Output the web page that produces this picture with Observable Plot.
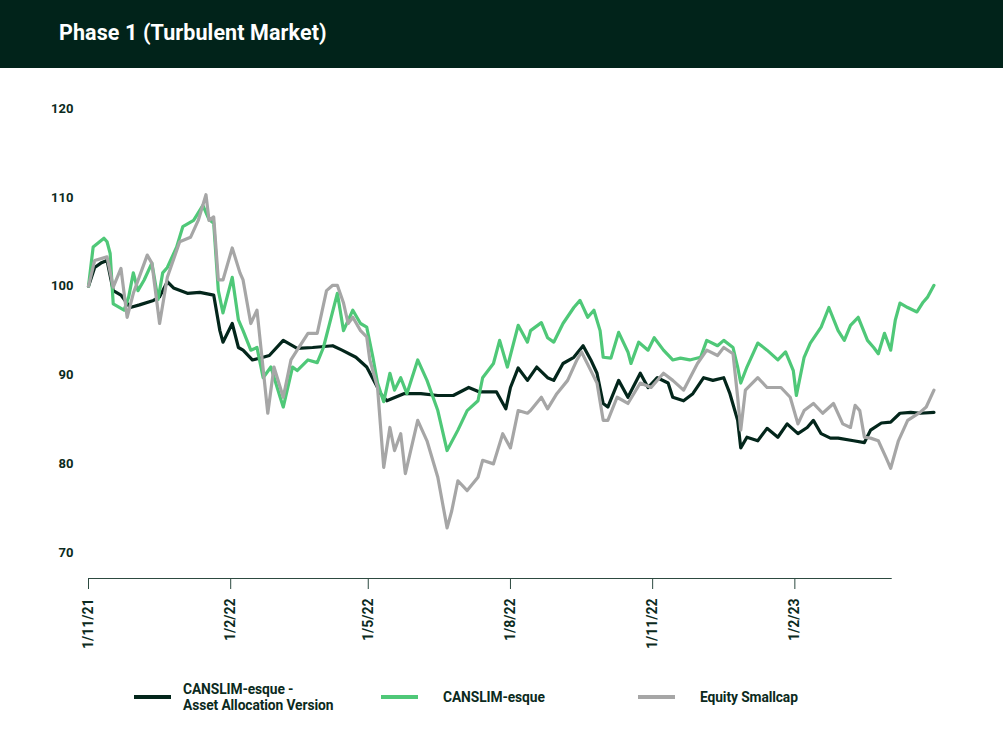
<!DOCTYPE html>
<html>
<head>
<meta charset="utf-8">
<script src="https://cdn.jsdelivr.net/npm/d3@7"></script>
<script src="https://cdn.jsdelivr.net/npm/@observablehq/plot@0.6"></script>
<style>
  html, body { margin: 0; padding: 0; background: #fff; }
  body { width: 1003px; height: 754px; position: relative; font-family: Roboto, "Open Sans", sans-serif; overflow: hidden; }
  #header { position: absolute; left: 0; top: 0; width: 1003px; height: 68px; background: #01231a; }
  #title { position: absolute; left: 59px; top: 20px; color: #fff; font-size: 21.5px; font-weight: 700; font-family: Roboto, sans-serif; letter-spacing: 0.1px; }
  #chart { position: absolute; left: 0; top: 68px; }
  .leg { position: absolute; font-family: Roboto, sans-serif; font-weight: 700; font-size: 13.8px; letter-spacing: -0.1px; color: #0b2a20; line-height: 16px; }
</style>
</head>
<body>
<div id="header"><div id="title">Phase 1 (Turbulent Market)</div></div>
<div id="chart"></div>
<div id="legend"></div>
<script>
const seriesNames = ["CANSLIM-esque -\nAsset Allocation Version", "CANSLIM-esque", "Equity Smallcap"];
const seriesColors = ["#03261b", "#4fc878", "#a6a6a6"];

const assetAllocation = [
  ["2021-11-01",100],["2021-11-05",102.1],["2021-11-09",102.6],["2021-11-13",102.9],["2021-11-17",99.5],
  ["2021-11-22",99.0],["2021-11-28",97.6],["2021-12-04",97.9],["2021-12-13",98.4],["2021-12-17",98.8],
  ["2021-12-22",100.5],["2021-12-26",99.8],["2022-01-04",99.2],["2022-01-12",99.3],["2022-01-21",99.0],
  ["2022-01-25",95.0],["2022-01-27",93.7],["2022-02-02",95.8],["2022-02-06",93.1],["2022-02-09",92.8],
  ["2022-02-15",91.7],["2022-02-22",92.0],["2022-02-26",92.2],["2022-03-07",93.9],["2022-03-16",93.0],
  ["2022-03-26",93.1],["2022-04-08",93.3],["2022-04-14",92.8],["2022-04-23",92.0],["2022-04-30",90.9],
  ["2022-05-07",88.6],["2022-05-09",87.9],["2022-05-13",87.1],["2022-05-24",87.9],["2022-06-04",87.9],
  ["2022-06-15",87.7],["2022-06-25",87.7],["2022-07-05",88.6],["2022-07-12",88.1],["2022-07-23",88.1],
  ["2022-07-29",86.2],["2022-08-01",88.6],["2022-08-06",90.8],["2022-08-12",89.4],["2022-08-18",90.9],
  ["2022-08-25",89.7],["2022-08-29",89.4],["2022-09-04",91.3],["2022-09-11",92.0],["2022-09-17",93.3],
  ["2022-09-22",91.7],["2022-09-26",90.2],["2022-09-30",86.8],["2022-10-03",86.4],["2022-10-10",89.4],
  ["2022-10-16",87.5],["2022-10-24",90.2],["2022-10-29",88.6],["2022-11-04",89.7],["2022-11-11",89.1],
  ["2022-11-14",87.5],["2022-11-21",87.1],["2022-11-27",87.9],["2022-12-04",89.7],["2022-12-10",89.4],
  ["2022-12-17",89.7],["2022-12-21",87.9],["2022-12-26",84.9],["2022-12-28",81.8],["2023-01-01",83.0],
  ["2023-01-08",82.6],["2023-01-14",84.0],["2023-01-21",83.0],["2023-01-27",84.5],["2023-02-03",83.4],
  ["2023-02-09",84.1],["2023-02-13",84.9],["2023-02-18",83.4],["2023-02-24",82.9],["2023-03-01",82.9],
  ["2023-03-11",82.6],["2023-03-18",82.4],["2023-03-22",83.8],["2023-03-29",84.6],["2023-04-04",84.7],
  ["2023-04-10",85.7],["2023-04-17",85.8],["2023-04-23",85.7],["2023-05-02",85.8]
];

const canslim = [
  ["2021-11-01",100],["2021-11-04",104.4],["2021-11-11",105.4],["2021-11-13",105.0],["2021-11-15",103.7],
  ["2021-11-17",98.0],["2021-11-24",97.3],["2021-11-27",98.8],["2021-11-30",101.5],["2021-12-03",99.5],
  ["2021-12-07",100.7],["2021-12-12",102.6],["2021-12-16",98.5],["2021-12-19",101.5],["2021-12-22",102.1],
  ["2021-12-28",104.4],["2022-01-01",106.7],["2022-01-08",107.4],["2022-01-14",109.1],["2022-01-18",107.5],
  ["2022-01-21",107.1],["2022-01-24",99.5],["2022-01-27",97.0],["2022-02-02",101.0],["2022-02-06",96.2],
  ["2022-02-09",95.0],["2022-02-14",92.8],["2022-02-18",93.1],["2022-02-22",89.7],["2022-02-27",90.9],
  ["2022-03-05",87.5],["2022-03-07",86.4],["2022-03-13",90.9],["2022-03-16",90.5],["2022-03-23",91.7],
  ["2022-03-29",91.4],["2022-04-02",93.1],["2022-04-07",96.5],["2022-04-11",99.2],["2022-04-15",95.0],
  ["2022-04-21",97.3],["2022-04-26",95.8],["2022-04-30",95.4],["2022-05-04",92.0],["2022-05-07",89.1],
  ["2022-05-11",87.0],["2022-05-15",90.2],["2022-05-18",88.3],["2022-05-22",89.7],["2022-05-26",87.9],
  ["2022-06-02",91.7],["2022-06-08",89.4],["2022-06-15",86.0],["2022-06-21",81.5],["2022-06-28",83.8],
  ["2022-07-04",86.0],["2022-07-11",87.1],["2022-07-14",89.7],["2022-07-21",91.3],["2022-07-25",93.9],
  ["2022-07-30",90.9],["2022-08-06",95.6],["2022-08-12",93.7],["2022-08-14",95.0],["2022-08-21",95.9],
  ["2022-08-25",94.2],["2022-08-29",93.7],["2022-09-04",95.8],["2022-09-11",97.6],["2022-09-15",98.4],
  ["2022-09-20",96.5],["2022-09-24",97.3],["2022-09-28",95.0],["2022-09-30",92.0],["2022-10-05",91.9],
  ["2022-10-10",94.8],["2022-10-16",92.6],["2022-10-18",91.3],["2022-10-23",93.7],["2022-10-29",92.8],
  ["2022-11-02",94.2],["2022-11-08",92.8],["2022-11-14",91.7],["2022-11-19",91.9],["2022-11-25",91.7],
  ["2022-12-02",92.0],["2022-12-06",93.9],["2022-12-13",93.3],["2022-12-17",93.9],["2022-12-23",93.1],
  ["2022-12-26",90.9],["2022-12-28",89.1],["2023-01-01",90.9],["2023-01-08",93.6],["2023-01-14",92.8],
  ["2023-01-21",91.7],["2023-01-26",92.6],["2023-01-31",90.5],["2023-02-02",87.7],["2023-02-07",92.0],
  ["2023-02-11",93.6],["2023-02-18",95.4],["2023-02-23",97.6],["2023-03-01",95.0],["2023-03-05",93.9],
  ["2023-03-09",95.6],["2023-03-14",96.5],["2023-03-20",93.9],["2023-03-24",93.1],["2023-03-27",92.4],
  ["2023-03-31",94.7],["2023-04-04",92.8],["2023-04-07",96.2],["2023-04-10",98.1],["2023-04-15",97.6],
  ["2023-04-21",97.1],["2023-04-25",98.2],["2023-04-28",98.8],["2023-05-02",100.1]
];

const equitySmallcap = [
  ["2021-11-01",100],["2021-11-05",102.9],["2021-11-13",103.3],["2021-11-17",99.9],["2021-11-22",102.0],
  ["2021-11-26",96.5],["2021-11-30",99.2],["2021-12-09",103.5],["2021-12-12",102.6],["2021-12-17",95.8],
  ["2021-12-22",101.0],["2021-12-30",105.0],["2022-01-06",105.5],["2022-01-11",107.4],["2022-01-16",110.3],
  ["2022-01-18",107.4],["2022-01-21",107.8],["2022-01-24",100.7],["2022-01-27",100.7],["2022-02-02",104.3],
  ["2022-02-07",101.5],["2022-02-09",100.7],["2022-02-14",95.8],["2022-02-18",97.3],["2022-02-25",85.7],
  ["2022-03-01",90.9],["2022-03-07",87.5],["2022-03-12",91.7],["2022-03-16",92.8],["2022-03-23",94.7],
  ["2022-03-29",94.7],["2022-04-04",99.5],["2022-04-08",100.1],["2022-04-11",100.1],["2022-04-15",98.1],
  ["2022-04-18",95.8],["2022-04-21",96.5],["2022-04-26",95.0],["2022-04-30",94.3],["2022-05-02",91.7],
  ["2022-05-07",88.6],["2022-05-11",79.6],["2022-05-15",84.1],["2022-05-18",81.5],["2022-05-22",83.4],
  ["2022-05-25",78.9],["2022-06-02",84.9],["2022-06-08",82.6],["2022-06-15",78.5],["2022-06-21",72.8],
  ["2022-06-24",74.7],["2022-06-28",78.1],["2022-07-04",77.0],["2022-07-11",78.5],["2022-07-14",80.4],
  ["2022-07-21",80.0],["2022-07-27",83.4],["2022-08-01",81.8],["2022-08-06",86.0],["2022-08-12",85.7],
  ["2022-08-14",86.0],["2022-08-21",87.5],["2022-08-25",86.2],["2022-08-31",87.9],["2022-09-07",89.4],
  ["2022-09-13",91.7],["2022-09-16",92.6],["2022-09-22",90.5],["2022-09-26",89.1],["2022-09-30",84.9],
  ["2022-10-03",84.9],["2022-10-09",87.5],["2022-10-16",86.8],["2022-10-24",89.1],["2022-10-31",88.6],
  ["2022-11-08",90.2],["2022-11-14",89.4],["2022-11-21",88.3],["2022-11-30",91.3],["2022-12-06",92.8],
  ["2022-12-13",92.2],["2022-12-17",93.1],["2022-12-23",92.4],["2022-12-26",87.5],["2022-12-28",83.8],
  ["2022-12-31",88.3],["2023-01-08",89.7],["2023-01-14",88.6],["2023-01-23",88.6],["2023-01-29",87.5],
  ["2023-02-03",84.5],["2023-02-07",86.0],["2023-02-13",86.8],["2023-02-19",85.7],["2023-02-26",86.8],
  ["2023-03-04",84.5],["2023-03-09",84.1],["2023-03-12",86.6],["2023-03-15",86.0],["2023-03-18",83.0],
  ["2023-03-22",82.9],["2023-03-27",82.6],["2023-04-01",80.7],["2023-04-04",79.5],["2023-04-09",82.6],
  ["2023-04-15",84.9],["2023-04-23",85.8],["2023-04-27",86.4],["2023-05-02",88.3]
];

const yTicks = [70, 80, 90, 100, 110, 120];
const xTickDates = ["2021-11-01", "2022-02-01", "2022-05-01", "2022-08-01", "2022-11-01", "2023-02-01"];
const xDomain = ["2021-11-01", "2023-05-03"];
const axisLineEnd = "2023-04-05";
const yDomain = [67.1, 120];

const parse = d3.utcParse("%Y-%m-%d");
const rows = [];
[assetAllocation, canslim, equitySmallcap].forEach((arr, i) => {
  arr.forEach(([d, v]) => rows.push({date: parse(d), value: v, series: seriesNames[i]}));
});
const fmt = d => `${d.getUTCDate()}/${d.getUTCMonth() + 1}/${String(d.getUTCFullYear()).slice(2)}`;

const chart = Plot.plot({
  width: 1003,
  height: 610,
  marginLeft: 88,
  marginRight: 68,
  marginTop: 40,
  marginBottom: 100,
  style: {fontFamily: "Roboto, sans-serif", fontSize: "13px", fontWeight: 700, color: "#0b2a20", background: "transparent"},
  x: {type: "utc", domain: xDomain.map(parse)},
  y: {domain: yDomain},
  color: {domain: seriesNames, range: seriesColors},
  marks: [
    Plot.axisY({ticks: yTicks, tickSize: 0, tickPadding: 15, label: null, fontSize: 13}),
    Plot.axisX({ticks: xTickDates.map(parse), tickFormat: fmt, tickRotate: -90, tickSize: 11, tickPadding: 9, label: null, fontSize: 14, stroke: "#2d4a40"}),
    Plot.ruleY([yDomain[0]], {x1: () => parse(xDomain[0]), x2: () => parse(axisLineEnd), stroke: "#2d4a40", strokeWidth: 1}),
    Plot.line(rows, {x: "date", y: "value", z: "series", stroke: "series", strokeWidth: 3.2, strokeLinejoin: "round", curve: "linear"})
  ]
});
document.getElementById("chart").appendChild(chart);

const legendPos = [[134, 183], [381, 443], [638, 700]];
const legend = document.getElementById("legend");
seriesNames.forEach((name, i) => {
  const sw = document.createElement("div");
  sw.style.cssText = `position:absolute;left:${legendPos[i][0]}px;top:695px;width:37px;height:4px;background:${seriesColors[i]}`;
  legend.appendChild(sw);
  const t = document.createElement("div");
  t.className = "leg";
  const lines = name.split("\n");
  t.style.cssText = `left:${legendPos[i][1]}px;top:${lines.length > 1 ? 681 : 689}px;white-space:pre;`;
  t.textContent = name;
  legend.appendChild(t);
});
</script>
</body>
</html>
